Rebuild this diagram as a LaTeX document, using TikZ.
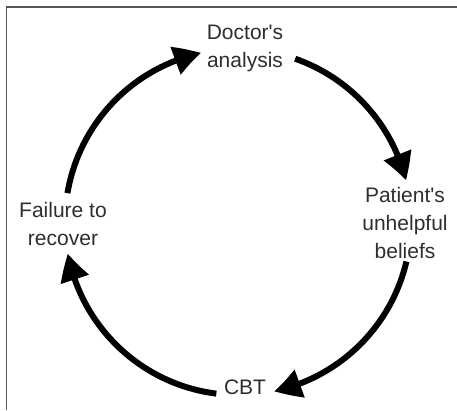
\documentclass[tikz,border=0pt]{standalone}
\usepackage{fontspec}
\setmainfont{Liberation Sans}
\usetikzlibrary{arrows.meta,bending}
\definecolor{txt}{HTML}{2E2E2E}
\definecolor{frame}{HTML}{555555}
\begin{document}
\begin{tikzpicture}[x=1pt,y=1pt,
  lbl/.style={align=center,anchor=north,inner sep=0pt,text=txt,font=\fontsize{21}{28}\selectfont},
  cyc/.style={line width=6pt,-{Triangle[length=27pt,width=28pt,bend]}}]
\useasboundingbox (0,0) rectangle (457,410);
\draw[frame,line width=1.5pt] (6.5,0) -- (6.5,403) -- (457,403);
\coordinate (c) at (238,188);
\node[lbl] (doc) at (245,385) {Doctor\textquotesingle s\\analysis};
\node[lbl] (pat) at (405,223) {Patient\textquotesingle s\\unhelpful\\beliefs};
\node[lbl] (fail) at (63,208) {Failure to\\recover};
\node[lbl] (cbt) at (245,30) {CBT};
\draw[cyc] (c) ++(170.4:173) arc[start angle=170.4,end angle=102.3,radius=173];
\draw[cyc] (c) ++(70.7:173) arc[start angle=70.7,end angle=13.9,radius=173];
\draw[cyc] (c) ++(-13.2:173) arc[start angle=-13.2,end angle=-78,radius=173];
\draw[cyc] (c) ++(262.8:173) arc[start angle=262.8,end angle=190.5,radius=173];
\end{tikzpicture}
\end{document}
